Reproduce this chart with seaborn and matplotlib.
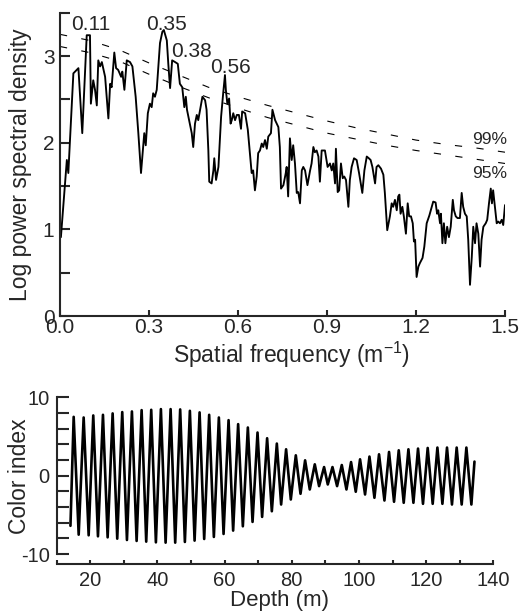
import numpy as np
import matplotlib
matplotlib.use("Agg")
import matplotlib.pyplot as plt
import seaborn as sns
from matplotlib.ticker import MultipleLocator, FormatStrFormatter

# spectrum (spatial frequency in 1/m, log power spectral density)
freq = [0.003, 0.017, 0.023, 0.028, 0.045, 0.062, 0.075, 0.090, 0.101, 0.104,
        0.112, 0.118, 0.124, 0.129, 0.135, 0.141, 0.152, 0.163, 0.169, 0.174,
        0.183, 0.189, 0.196, 0.206, 0.210, 0.217, 0.225, 0.236, 0.244, 0.255,
        0.264, 0.273, 0.281, 0.284, 0.289, 0.296, 0.303, 0.309, 0.314, 0.320,
        0.326, 0.337, 0.345, 0.350, 0.360, 0.365, 0.371, 0.378, 0.388, 0.397,
        0.404, 0.412, 0.419, 0.424, 0.428, 0.435, 0.444, 0.449, 0.455, 0.461,
        0.466, 0.480, 0.489, 0.494, 0.500, 0.503, 0.511, 0.517, 0.520, 0.526,
        0.534, 0.543, 0.550, 0.556, 0.559, 0.564, 0.570, 0.575, 0.579, 0.584,
        0.590, 0.596, 0.603, 0.610, 0.614, 0.624, 0.633, 0.640, 0.646, 0.651,
        0.657, 0.663, 0.668, 0.674, 0.680, 0.685, 0.691, 0.697, 0.702, 0.711,
        0.716, 0.725, 0.736, 0.741, 0.745, 0.753, 0.761, 0.764, 0.769, 0.775,
        0.781, 0.786, 0.792, 0.798, 0.803, 0.809, 0.815, 0.820, 0.826, 0.834,
        0.843, 0.848, 0.854, 0.859, 0.865, 0.871, 0.876, 0.882, 0.893, 0.902,
        0.910, 0.916, 0.921, 0.927, 0.930, 0.936, 0.941, 0.947, 0.953, 0.958,
        0.964, 0.972, 0.977, 0.983, 0.991, 1.000, 1.008, 1.019, 1.026, 1.034,
        1.041, 1.047, 1.053, 1.062, 1.067, 1.073, 1.082, 1.090, 1.095, 1.103,
        1.112, 1.118, 1.123, 1.129, 1.135, 1.140, 1.144, 1.148, 1.154, 1.159,
        1.166, 1.172, 1.177, 1.183, 1.189, 1.193, 1.197, 1.202, 1.208, 1.213,
        1.222, 1.228, 1.236, 1.245, 1.253, 1.258, 1.266, 1.271, 1.275, 1.281,
        1.284, 1.289, 1.294, 1.299, 1.305, 1.311, 1.317, 1.324, 1.328, 1.334,
        1.340, 1.348, 1.354, 1.359, 1.365, 1.371, 1.376, 1.382, 1.388, 1.393,
        1.399, 1.404, 1.410, 1.416, 1.421, 1.427, 1.435, 1.440, 1.446, 1.452,
        1.456, 1.460, 1.466, 1.472, 1.477, 1.483, 1.489, 1.494, 1.500]
log_psd = [0.91, 1.53, 1.80, 1.65, 2.80, 2.86, 2.11, 3.24, 3.24, 2.45,
           2.72, 2.61, 2.43, 2.95, 2.88, 2.93, 2.76, 2.28, 2.68, 2.64,
           3.04, 2.86, 2.84, 2.76, 2.82, 2.61, 2.95, 2.93, 2.88, 2.53,
           2.11, 1.65, 1.99, 2.11, 1.97, 2.34, 2.45, 2.41, 2.57, 2.53,
           2.61, 3.15, 3.28, 3.30, 3.18, 2.91, 2.63, 2.95, 2.93, 2.91,
           2.68, 2.64, 2.41, 2.53, 2.38, 2.26, 2.11, 1.95, 2.22, 2.32,
           2.26, 2.53, 2.49, 2.38, 1.91, 1.55, 1.53, 1.68, 1.82, 1.57,
           1.72, 2.30, 2.57, 2.78, 2.61, 2.45, 2.51, 2.22, 2.26, 2.34,
           2.26, 2.32, 2.32, 2.16, 2.36, 2.34, 2.15, 1.88, 1.65, 1.68,
           1.45, 1.61, 1.88, 1.91, 1.99, 1.95, 2.03, 1.93, 2.07, 2.11,
           2.38, 2.26, 2.18, 1.95, 1.47, 1.51, 1.65, 1.72, 1.38, 2.05,
           1.80, 1.97, 1.76, 1.42, 1.43, 1.30, 1.68, 1.72, 1.68, 1.51,
           1.68, 1.76, 1.95, 1.89, 1.91, 1.84, 1.55, 1.91, 1.91, 1.72,
           1.76, 1.68, 1.76, 1.53, 1.93, 1.43, 1.45, 1.76, 1.59, 1.61,
           1.57, 1.26, 1.57, 1.72, 1.82, 1.80, 1.65, 1.42, 1.68, 1.84,
           1.82, 1.80, 1.72, 1.53, 1.72, 1.74, 1.70, 1.63, 1.42, 0.99,
           1.15, 1.30, 1.26, 1.34, 1.22, 1.38, 1.40, 1.18, 1.26, 1.15,
           0.95, 1.30, 1.15, 1.15, 1.07, 0.86, 0.88, 0.45, 0.57, 0.61,
           0.67, 0.80, 1.07, 1.16, 1.26, 1.32, 1.31, 1.18, 1.22, 1.07,
           1.18, 0.84, 1.07, 0.84, 1.03, 0.91, 1.03, 1.34, 1.22, 1.15,
           1.13, 1.13, 1.42, 1.26, 1.18, 1.15, 0.88, 0.36, 0.68, 1.03,
           0.84, 1.07, 0.95, 0.57, 0.88, 1.03, 1.07, 1.11, 1.30, 1.47,
           1.30, 1.45, 1.26, 1.07, 1.09, 1.07, 1.11, 1.05, 1.28]

# confidence levels
conf_freq = [0.0, 0.1, 0.2, 0.3, 0.4, 0.5, 0.6, 0.7, 0.8, 0.9, 1.0, 1.1, 1.2, 1.3, 1.4, 1.5]
conf_99 = [3.25, 3.18, 3.07, 2.92, 2.78, 2.64, 2.53, 2.43, 2.34, 2.25, 2.17, 2.10, 2.03, 1.98, 1.94, 1.89]
conf_95 = [3.11, 3.04, 2.94, 2.79, 2.65, 2.52, 2.40, 2.29, 2.20, 2.11, 2.04, 1.97, 1.91, 1.86, 1.81, 1.76]

peak_labels = ["0.11", "0.35", "0.38", "0.56"]
peak_label_x = [0.104, 0.36, 0.444, 0.573]
peak_label_y = [3.30, 3.30, 2.99, 2.80]

# filtered colour index: extrema of the band-passed signal
peak_depth = [15.06, 18.03, 20.89, 23.78, 26.66, 29.52, 32.40, 35.29, 38.15, 41.03,
              43.92, 46.77, 49.66, 52.55, 55.40, 58.29, 61.18, 64.03, 66.92, 69.80,
              72.66, 75.55, 78.31, 81.20, 83.97, 86.85, 89.62, 92.12, 94.89, 97.65,
              100.33, 103.13, 105.98, 108.96, 111.85, 114.73, 117.59, 120.47, 123.36, 126.22,
              129.10, 131.99]
peak_value = [7.51, 7.43, 7.69, 7.77, 7.95, 8.12, 8.20, 8.37, 8.41, 8.50,
              8.50, 8.46, 8.28, 8.08, 7.77, 7.43, 7.09, 6.58, 6.15, 5.51,
              4.78, 4.10, 3.37, 2.60, 1.96, 1.45, 1.10, 1.10, 1.36, 1.74,
              2.09, 2.44, 2.73, 3.03, 3.24, 3.37, 3.46, 3.54, 3.59, 3.59,
              3.59, 3.59]
trough_depth = [16.55, 19.52, 22.29, 25.17, 28.03, 30.92, 33.80, 36.66, 39.54, 42.43,
                45.29, 48.17, 51.06, 53.92, 56.80, 59.69, 62.54, 65.43, 68.32, 71.17,
                74.06, 76.83, 79.71, 82.60, 85.36, 88.13, 90.72, 93.49, 96.28, 99.05,
                101.82, 104.61, 107.59, 110.45, 113.33, 116.22, 119.07, 121.96, 124.85, 127.70,
                130.59, 133.48]
trough_value = [-7.53, -7.61, -7.74, -7.87, -8.04, -8.21, -8.33, -8.42, -8.51, -8.55,
                -8.55, -8.46, -8.29, -8.08, -7.82, -7.44, -7.01, -6.46, -5.90, -5.26,
                -4.54, -3.68, -3.04, -2.31, -1.76, -1.33, -1.12, -1.33, -1.76, -2.05,
                -2.40, -2.82, -3.17, -3.33, -3.46, -3.46, -3.59, -3.59, -3.59, -3.68,
                -3.68, -3.68]
start_point = (14.1, -6.4)
end_point = (134.4, 1.8)

sns.set_style("ticks")
plt.rcParams['font.family'] = ['Liberation Sans', 'DejaVu Sans']
plt.rcParams['mathtext.fontset'] = 'custom'
plt.rcParams['mathtext.rm'] = 'Liberation Sans'
plt.rcParams['axes.unicode_minus'] = False

fig = plt.figure(figsize=(5.21, 6.13), dpi=100)
ax1 = fig.add_axes([0.1152, 0.4845, 0.8541, 0.4948])
ax2 = fig.add_axes([0.1088, 0.0962, 0.838, 0.2556])

# --- top panel: spectrum ---
sns.lineplot(x=freq, y=log_psd, ax=ax1, color='black', lw=1.35, estimator=None, sort=False)
for lvl in (conf_99, conf_95):
    sns.lineplot(x=conf_freq, y=lvl, ax=ax1, color='black', lw=0.8,
                 linestyle=(0, (6.5, 13)), estimator=None)

for txt, x, y in zip(peak_labels, peak_label_x, peak_label_y):
    ax1.text(x, y, txt, ha='center', va='baseline', fontsize=15)
ax1.text(1.449, 1.99, "99%", ha='center', va='baseline', fontsize=12.5)
ax1.text(1.449, 1.59, "95%", ha='center', va='baseline', fontsize=12.5)

ax1.set_xlim(0, 1.5)
ax1.set_ylim(0, 3.5)
ax1.xaxis.set_major_locator(MultipleLocator(0.3))
ax1.xaxis.set_major_formatter(FormatStrFormatter('%.1f'))
ax1.yaxis.set_major_locator(MultipleLocator(1))
ax1.yaxis.set_minor_locator(MultipleLocator(0.5))
ax1.tick_params(axis='both', which='both', direction='in', width=1.5, labelsize=15)
ax1.tick_params(axis='y', which='both', length=7, pad=4)
ax1.tick_params(axis='x', length=4.5, pad=1.5)
ax1.set_xlabel("Spatial frequency (m$^{-1}$)", fontsize=16.5)
ax1.set_ylabel("Log power spectral density", fontsize=16.5)
ax1.xaxis.set_label_coords(0.52, -0.078)
ax1.yaxis.set_label_coords(-0.062, 0.5)
sns.despine(ax=ax1)
for s in ('left', 'bottom'):
    ax1.spines[s].set_linewidth(1.5)

# --- bottom panel: filtered colour index ---
depth = np.concatenate([[start_point[0]],
                        np.column_stack([peak_depth, trough_depth]).ravel(),
                        [end_point[0]]])
cindex = np.concatenate([[start_point[1]],
                         np.column_stack([peak_value, trough_value]).ravel(),
                         [end_point[1]]])
sns.lineplot(x=depth, y=cindex, ax=ax2, color='black', lw=1.9, estimator=None, sort=False)

ax2.set_xlim(10, 140)
ax2.set_ylim(-10, 10)
ax2.xaxis.set_major_locator(MultipleLocator(20))
ax2.xaxis.set_minor_locator(MultipleLocator(10))
ax2.yaxis.set_major_locator(MultipleLocator(10))
ax2.yaxis.set_minor_locator(MultipleLocator(2))
ax2.tick_params(axis='both', which='both', direction='in', width=1.5, labelsize=14.5)
ax2.tick_params(axis='y', which='both', length=8.4, pad=5)
ax2.tick_params(axis='x', which='both', length=3.2, pad=5)
ax2.set_xlabel("Depth (m)", fontsize=16)
ax2.set_ylabel("Color index", fontsize=16.5)
ax2.xaxis.set_label_coords(0.51, -0.366)
ax2.xaxis.label.set_va('bottom')
ax2.yaxis.set_label_coords(-0.058, 0.5)
sns.despine(ax=ax2)
ax2.spines['bottom'].set_position(('outward', 7.4))
for s in ('left', 'bottom'):
    ax2.spines[s].set_linewidth(1.5)

fig.savefig("out.png", dpi=100)
